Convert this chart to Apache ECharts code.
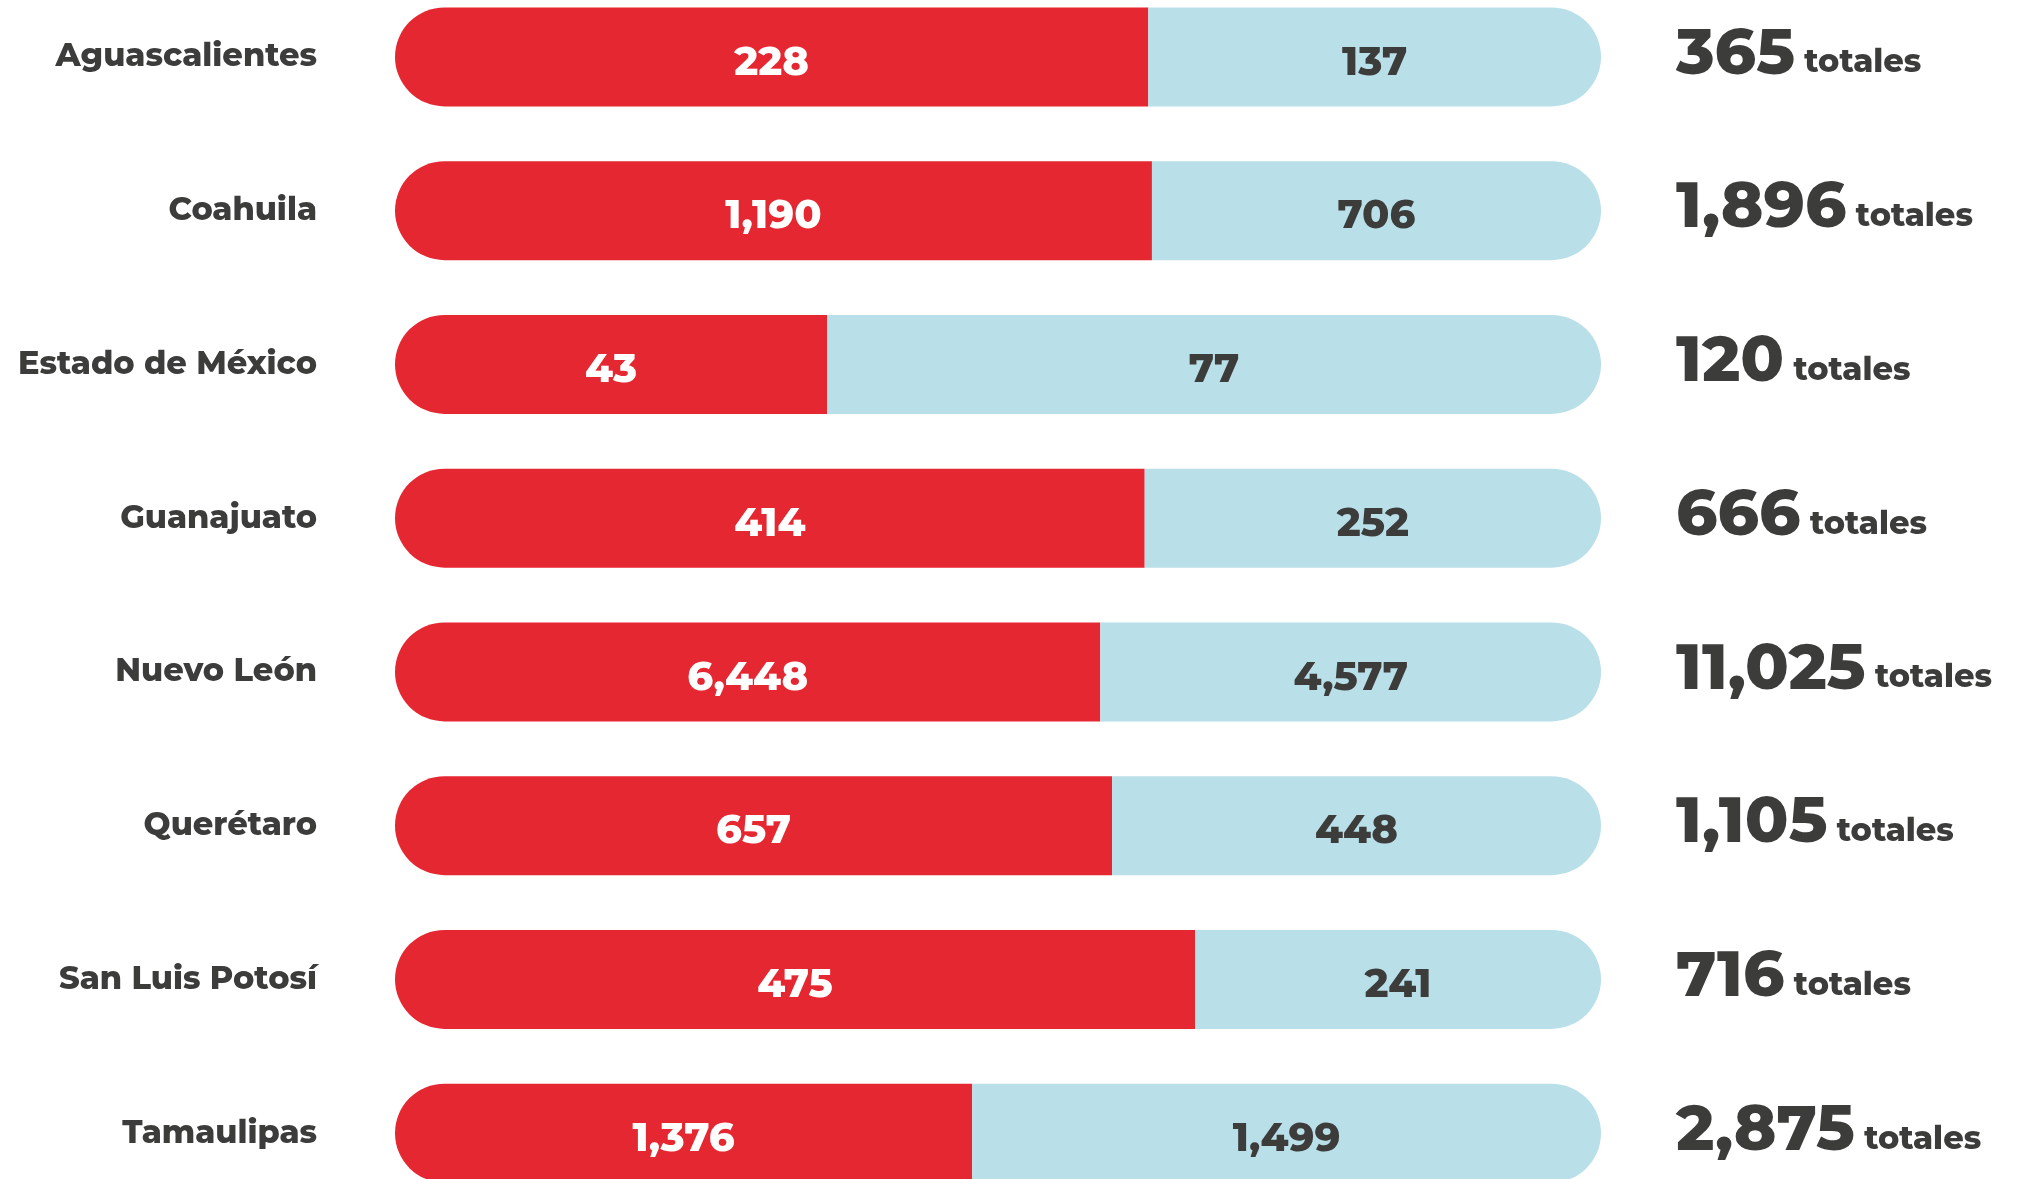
<!DOCTYPE html>
<html>
<head>
<meta charset="utf-8">
<script src="https://cdn.jsdelivr.net/npm/echarts@6/dist/echarts.min.js"></script>
<style>
  html, body { margin: 0; padding: 0; background: #fff; overflow: hidden; }
  /* the rows run past the page edges, so the chart box is taller than the page */
  #chart { position: absolute; left: 0; top: -20px; width: 2028px; height: 1230px; }
</style>
</head>
<body>
<div id="chart"></div>
<script>
const estados = ['Aguascalientes', 'Coahuila', 'Estado de México', 'Guanajuato', 'Nuevo León', 'Querétaro', 'San Luis Potosí', 'Tamaulipas']
const rojo = [228, 1190, 43, 414, 6448, 657, 475, 1376]
const azul = [137, 706, 77, 252, 4577, 448, 241, 1499]

const fmt = v => v.toLocaleString('en-US')
const totales = rojo.map((r, i) => r + azul[i])
const rojoPct = rojo.map((r, i) => r / totales[i] * 100)
const azulPct = azul.map((a, i) => a / totales[i] * 100)

const fuente = 'Montserrat, Inter, "Open Sans", sans-serif'
const gris = '#3c3c3b'

const myChart = echarts.init(document.getElementById('chart'))
const option = {
  animation: false,
  grid: { left: 395, right: 427, top: 0, bottom: 0 },
  xAxis: {
    type: 'value',
    min: 0,
    max: 100,
    show: false
  },
  yAxis: [
    {
      type: 'category',
      data: estados,
      inverse: true,
      axisLine: { show: false },
      axisTick: { show: false },
      axisLabel: {
        margin: 78,
        fontFamily: fuente,
        fontWeight: 800,
        fontSize: 32,
        color: gris
      }
    },
    {
      type: 'category',
      data: totales.map(fmt),
      inverse: true,
      position: 'right',
      axisLine: { show: false },
      axisTick: { show: false },
      axisLabel: {
        margin: 75,
        align: 'left',
        padding: [0, 0, 10, 0],
        formatter: v => '{a|' + v + '}{b| totales}',
        rich: {
          a: { fontFamily: fuente, fontWeight: 800, fontSize: 64, color: gris, verticalAlign: 'bottom', lineHeight: 70 },
          b: { fontFamily: fuente, fontWeight: 800, fontSize: 32, color: gris, verticalAlign: 'bottom', lineHeight: 40, padding: [0, 0, 8, 0] }
        }
      }
    }
  ],
  series: [
    {
      name: 'rojo',
      type: 'bar',
      stack: 'total',
      barWidth: 99,
      data: rojoPct,
      itemStyle: { color: '#e52731', borderRadius: [50, 0, 0, 50] },
      label: {
        show: true,
        position: 'inside',
        formatter: p => fmt(rojo[p.dataIndex]),
        fontFamily: fuente,
        fontWeight: 800,
        fontSize: 40,
        color: '#fff',
        offset: [0, 6]
      }
    },
    {
      name: 'azul',
      type: 'bar',
      stack: 'total',
      barWidth: 99,
      data: azulPct,
      itemStyle: { color: '#b9dfe9', borderRadius: [0, 50, 50, 0] },
      label: {
        show: true,
        position: 'inside',
        formatter: p => fmt(azul[p.dataIndex]),
        fontFamily: fuente,
        fontWeight: 800,
        fontSize: 40,
        color: gris,
        offset: [0, 6]
      }
    }
  ]
}
myChart.setOption(option)
</script>
</body>
</html>
